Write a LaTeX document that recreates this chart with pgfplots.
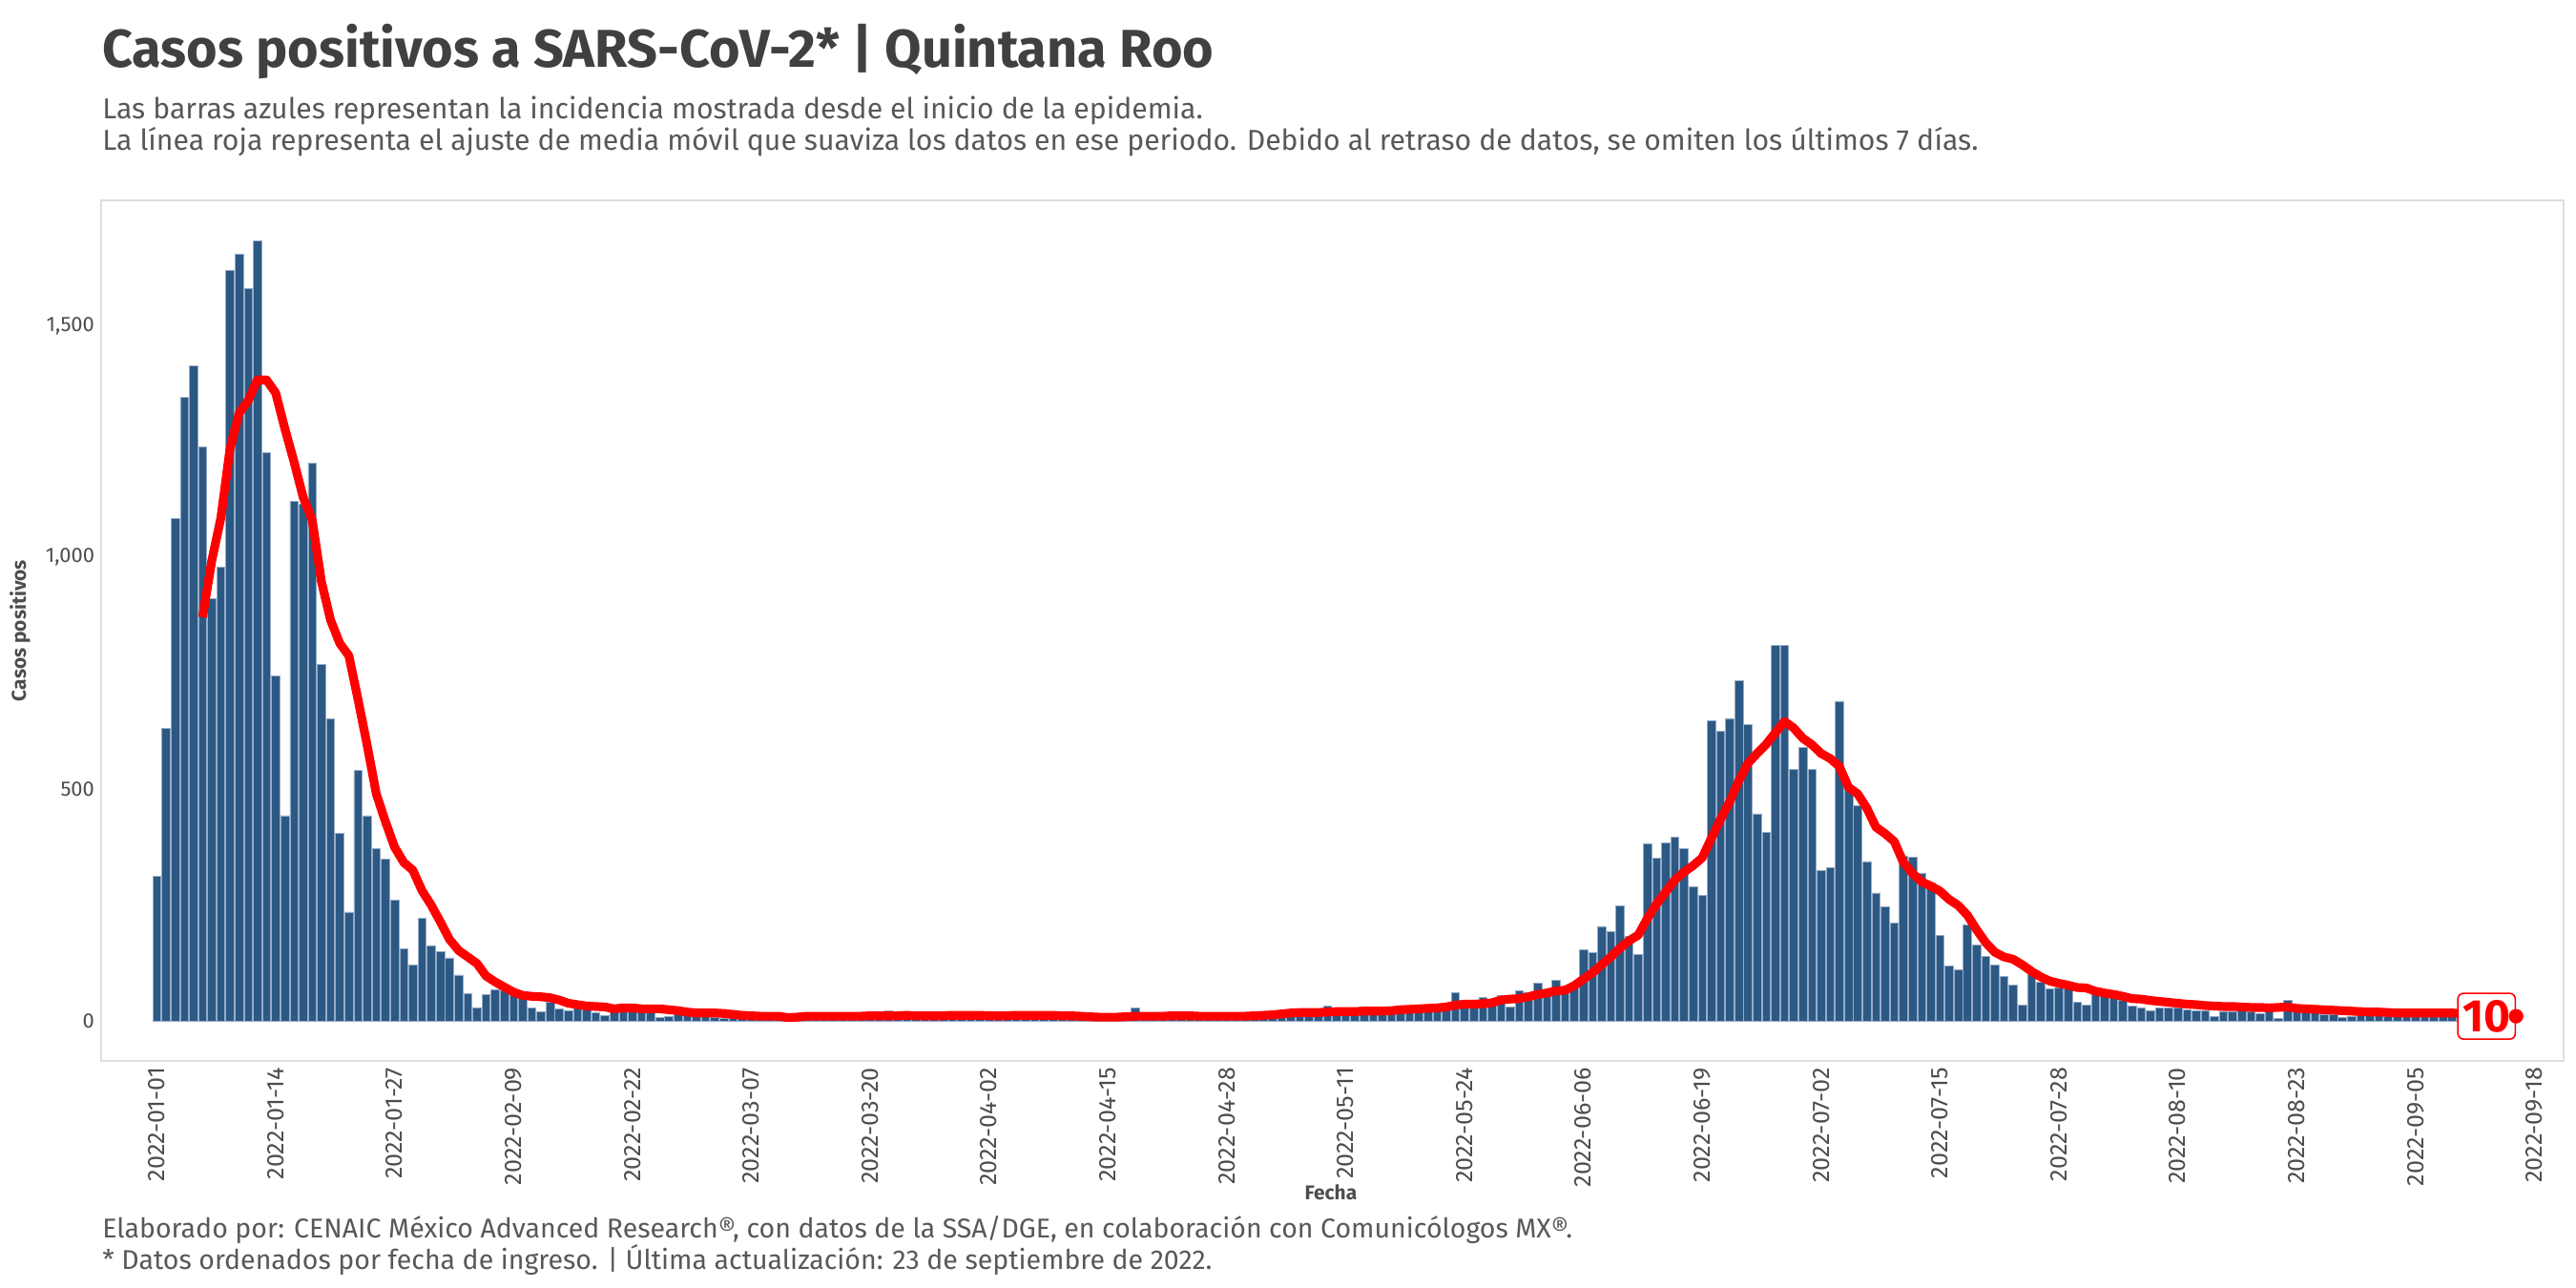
\documentclass[border=0pt]{standalone}
\usepackage{pgfplots}
\pgfplotsset{compat=1.18}
\usepackage{fontspec}
\setmainfont{Fira Sans}
\definecolor{barblue}{RGB}{44,88,132}
\definecolor{baredge}{RGB}{150,172,198}
\definecolor{titlegray}{RGB}{64,64,64}
\definecolor{subgray}{RGB}{88,88,88}
\definecolor{tickgray}{RGB}{77,77,77}
\definecolor{framegray}{RGB}{222,222,222}
\definecolor{myred}{RGB}{255,0,0}

\begin{document}
\begin{tikzpicture}
\path[use as bounding box] (0,0) rectangle (1350bp,-675bp);
\begin{axis}[
  at={(53bp,-556bp)}, anchor=south west,
  scale only axis, width=1290.5bp, height=451bp,
  xmin=-6.09, xmax=263.2, ymin=-86.5, ymax=1770.6,
  axis line style={framegray, line width=0.8bp},
  major tick length=0pt,
  xtick={0,13,...,260},
  xticklabels={2022-01-01,2022-01-14,2022-01-27,2022-02-09,2022-02-22,2022-03-07,2022-03-20,2022-04-02,2022-04-15,2022-04-28,2022-05-11,2022-05-24,2022-06-06,2022-06-19,2022-07-02,2022-07-15,2022-07-28,2022-08-10,2022-08-23,2022-09-05,2022-09-18},
  x tick label style={rotate=90, anchor=east, font=\fontsize{12.6}{14}\selectfont, text=tickgray},
  ytick={0,500,1000,1500},
  yticklabels={0,500,{1,000},{1,500}},
  y tick label style={font=\fontsize{11}{13}\selectfont, text=tickgray},
  clip=false,
]
\addplot[ybar, bar width=0.9, bar shift=0pt, fill=barblue, draw=baredge, line width=0.3bp] coordinates {
(0,312)(1,631)(2,1084)(3,1346)(4,1414)(5,1238)(6,912)(7,979)(8,1620)(9,1654)
(10,1581)(11,1684)(12,1227)(13,745)(14,443)(15,1122)(16,1115)(17,1203)(18,770)(19,652)
(20,404)(21,235)(22,540)(23,443)(24,372)(25,350)(26,261)(27,156)(28,121)(29,221)
(30,163)(31,150)(32,136)(33,99)(34,59)(35,29)(36,57)(37,68)(38,65)(39,55)
(40,48)(41,28)(42,19)(43,41)(44,26)(45,23)(46,29)(47,24)(48,17)(49,12)
(50,21)(51,21)(52,21)(53,20)(54,17)(55,7)(56,10)(57,17)(58,14)(59,10)
(60,10)(61,7)(62,5)(63,7)(64,8)(65,9)(66,7)(67,8)(68,6)(69,9)
(70,7)(71,8)(72,6)(73,9)(74,8)(75,9)(76,11)(77,8)(78,10)(79,12)
(80,22)(81,9)(82,10)(83,8)(84,11)(85,9)(86,12)(87,10)(88,8)(89,11)
(90,13)(91,9)(92,10)(93,12)(94,9)(95,11)(96,10)(97,13)(98,9)(99,10)
(100,8)(101,11)(102,9)(103,7)(104,8)(105,6)(106,9)(107,28)(108,10)(109,9)
(110,11)(111,10)(112,12)(113,9)(114,10)(115,11)(116,8)(117,10)(118,9)(119,12)
(120,11)(121,13)(122,15)(123,14)(124,17)(125,16)(126,18)(127,17)(128,32)(129,19)
(130,18)(131,17)(132,30)(133,20)(134,19)(135,22)(136,21)(137,24)(138,23)(139,25)
(140,26)(141,28)(142,61)(143,45)(144,43)(145,50)(146,42)(147,55)(148,30)(149,65)
(150,62)(151,82)(152,68)(153,87)(154,62)(155,81)(156,154)(157,147)(158,204)(159,193)
(160,248)(161,182)(162,143)(163,383)(164,352)(165,385)(166,397)(167,372)(168,289)(169,271)
(170,648)(171,625)(172,653)(173,734)(174,639)(175,447)(176,407)(177,810)(178,811)(179,543)
(180,590)(181,542)(182,324)(183,331)(184,690)(185,505)(186,465)(187,344)(188,276)(189,246)
(190,211)(191,356)(192,354)(193,318)(194,297)(195,184)(196,119)(197,111)(198,208)(199,164)
(200,140)(201,120)(202,96)(203,77)(204,35)(205,100)(206,84)(207,70)(208,72)(209,69)
(210,41)(211,35)(212,59)(213,55)(214,52)(215,45)(216,32)(217,29)(218,23)(219,28)
(220,28)(221,28)(222,24)(223,22)(224,22)(225,10)(226,21)(227,21)(228,39)(229,21)
(230,15)(231,21)(232,6)(233,44)(234,21)(235,17)(236,17)(237,14)(238,14)(239,7)
(240,10)(241,12)(242,11)(243,12)(244,10)(245,11)(246,12)(247,10)(248,11)(249,10)
(250,11)(251,10)(252,9)(253,10)(254,8)(255,9)(256,10)(257,8)(258,9)
};
\addplot[myred, line width=4.6bp, line join=round] coordinates {
(5,871)(6,992)(7,1085)(8,1234)(9,1311)(10,1339)(11,1383)(12,1383)(13,1355)(14,1278)
(15,1207)(16,1130)(17,1080)(18,948)(19,865)(20,815)(21,788)(22,694)(23,595)(24,490)
(25,430)(26,375)(27,342)(28,325)(29,281)(30,250)(31,214)(32,176)(33,152)(34,138)
(35,124)(36,97)(37,84)(38,73)(39,62)(40,55)(41,53)(42,52)(43,50)(44,45)
(45,38)(46,35)(47,32)(48,31)(49,30)(50,26)(51,28)(52,28)(53,26)(54,26)
(55,26)(56,24)(57,22)(58,19)(59,17)(60,17)(61,17)(62,16)(63,14)(64,12)
(65,11)(66,10)(67,10)(68,10)(69,7)(70,8)(71,10)(72,10)(73,10)(74,10)
(75,10)(76,10)(77,10)(78,11)(79,11)(80,11)(81,11)(82,12)(83,11)(84,11)
(85,11)(86,11)(87,12)(88,12)(89,12)(90,12)(91,11)(92,11)(93,11)(94,12)
(95,12)(96,12)(97,12)(98,12)(99,11)(100,11)(101,10)(102,9)(103,8)(104,8)
(105,8)(106,9)(107,10)(108,10)(109,10)(110,10)(111,11)(112,11)(113,11)(114,10)
(115,10)(116,10)(117,10)(118,10)(119,10)(120,11)(121,12)(122,13)(123,15)(124,17)
(125,18)(126,18)(127,18)(128,19)(129,20)(130,20)(131,20)(132,21)(133,21)(134,21)
(135,22)(136,24)(137,25)(138,26)(139,27)(140,28)(141,30)(142,34)(143,36)(144,36)
(145,37)(146,39)(147,45)(148,47)(149,48)(150,52)(151,57)(152,60)(153,65)(154,66)
(155,76)(156,90)(157,104)(158,121)(159,138)(160,157)(161,173)(162,185)(163,221)(164,252)
(165,278)(166,304)(167,321)(168,335)(169,352)(170,394)(171,435)(172,473)(173,518)(174,556)
(175,577)(176,597)(177,622)(178,646)(179,632)(180,610)(181,596)(182,577)(183,566)(184,549)
(185,504)(186,490)(187,459)(188,418)(189,404)(190,387)(191,342)(192,318)(193,300)(194,291)
(195,280)(196,262)(197,249)(198,228)(199,197)(200,169)(201,148)(202,138)(203,133)(204,121)
(205,107)(206,95)(207,86)(208,81)(209,77)(210,72)(211,71)(212,64)(213,60)(214,57)
(215,53)(216,48)(217,47)(218,44)(219,42)(220,40)(221,38)(222,36)(223,35)(224,33)
(225,32)(226,31)(227,31)(228,30)(229,29)(230,29)(231,28)(232,29)(233,30)(234,27)
(235,26)(236,25)(237,24)(238,23)(239,22)(240,21)(241,20)(242,19)(243,19)(244,18)
(245,17)(246,17)(247,17)(248,17)(249,17)(250,17)(251,17)(252,16)(253,15)(254,14)
(255,13)(256,12)(257,11)(258,10)
};
\addplot[only marks, mark=*, mark size=3.6bp, myred] coordinates {(258,10)};
\node[anchor=east, draw=myred, fill=white, rounded corners=3bp, line width=0.8bp,
      inner xsep=2.5bp, inner ysep=0pt, minimum height=24bp, text=myred,
      font=\bfseries\fontsize{24}{26}\selectfont] at (axis cs:258,10) {10};
\end{axis}
\begin{scope}[x=0.5bp,y=-0.5bp]
\node[anchor=base west, inner sep=0pt, text=titlegray, font=\bfseries\fontsize{28}{31}\selectfont] at (107,71) {Casos positivos a SARS-CoV-2* | Quintana Roo};
\node[anchor=base west, inner sep=0pt, text=subgray, font=\fontsize{15.15}{18}\selectfont] at (107,125) {Las barras azules representan la incidencia mostrada desde el inicio de la epidemia.};
\node[anchor=base west, inner sep=0pt, text=subgray, font=\fontsize{15.15}{18}\selectfont] at (107,158) {La línea roja representa el ajuste de media móvil que suaviza los datos en ese periodo. Debido al retraso de datos, se omiten los últimos 7 días.};
\node[anchor=base west, inner sep=0pt, text=subgray, font=\fontsize{14.3}{17}\selectfont] at (107,1298) {Elaborado por: CENAIC México Advanced Research®, con datos de la SSA/DGE, en colaboración con Comunicólogos MX®.};
\node[anchor=base west, inner sep=0pt, text=subgray, font=\fontsize{14.3}{17}\selectfont] at (107,1331) {* Datos ordenados por fecha de ingreso. | Última actualización: 23 de septiembre de 2022.};
\node[rotate=90, inner sep=0pt, text=tickgray, font=\bfseries\fontsize{10.5}{12}\selectfont] at (21,661) {Casos positivos};
\node[inner sep=0pt, text=tickgray, font=\bfseries\fontsize{10.5}{12}\selectfont] at (1395,1250) {Fecha};
\end{scope}
\end{tikzpicture}
\end{document}
